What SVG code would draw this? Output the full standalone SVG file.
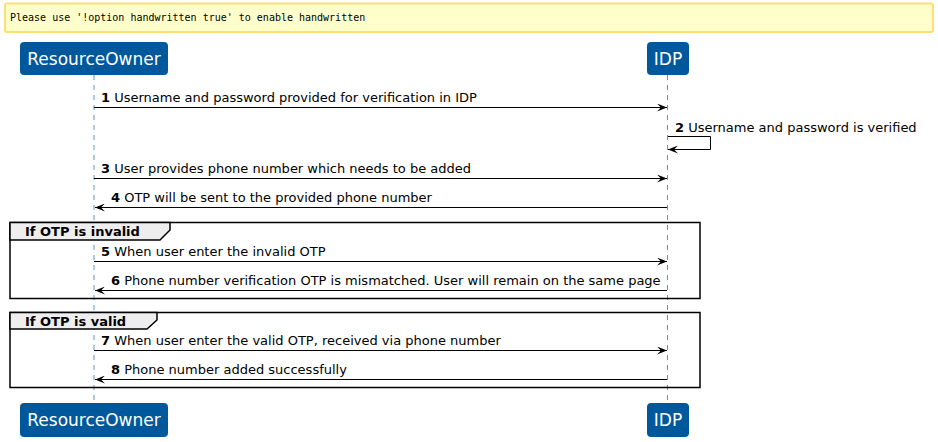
<svg xmlns="http://www.w3.org/2000/svg" width="938" height="442" viewBox="0 0 938 442">
<style>
.note{fill:#FFFFCC;stroke:#FFDD77;stroke-width:2}
.notetxt{font-family:"DejaVu Sans Mono","Liberation Mono",monospace;font-size:10px;fill:#000}
.pbox{fill:#00589C;stroke:#00589C;stroke-width:1}
.ptxt{font-family:"DejaVu Sans","Liberation Sans",sans-serif;font-size:17px;fill:#FFFFFF;text-anchor:middle}
.life{stroke:#5B93C8;stroke-width:1;stroke-dasharray:5,5;fill:none}
.msg{stroke:#000;stroke-width:1;fill:none}
.mtxt{font-family:"DejaVu Sans","Liberation Sans",sans-serif;font-size:13px;fill:#000}
.num{font-weight:bold}
.grp{fill:none;stroke:#000;stroke-width:1.5}
.tab{fill:#EEEEEE;stroke:#000;stroke-width:1.5}
.gtxt{font-family:"DejaVu Sans","Liberation Sans",sans-serif;font-size:13px;font-weight:bold;fill:#000}
</style>
<defs>
<marker id="ah" viewBox="0 0 10 8" refX="10" refY="4" markerWidth="10" markerHeight="8" markerUnits="userSpaceOnUse" orient="auto">
<polygon points="0,0 10,4 0,8 4,4" fill="#000"/>
</marker>
</defs>
<g id="note">
<rect class="note" x="5" y="3.5" width="928" height="28.5" rx="2"/>
<text class="notetxt" x="10" y="20.5">Please use '!option handwritten true' to enable handwritten</text>
</g>
<g id="lifelines">
<line class="life" x1="94" y1="75" x2="94" y2="403"/>
<line class="life" x1="667.5" y1="75" x2="667.5" y2="403"/>
</g>
<g id="ResourceOwner">
<rect class="pbox" x="20.5" y="42.5" width="147" height="32" rx="3"/>
<text class="ptxt" x="94" y="64.5">ResourceOwner</text>
</g>
<g id="IDP">
<rect class="pbox" x="647.5" y="42.5" width="41" height="32" rx="3"/>
<text class="ptxt" x="668" y="64.5">IDP</text>
</g>
<g id="ResourceOwner-bottom">
<rect class="pbox" x="20.5" y="403.5" width="147" height="33" rx="3"/>
<text class="ptxt" x="94" y="426">ResourceOwner</text>
</g>
<g id="IDP-bottom">
<rect class="pbox" x="647.5" y="403.5" width="41" height="33" rx="3"/>
<text class="ptxt" x="668" y="426">IDP</text>
</g>
<g id="groups">
<rect class="grp" x="10" y="222.5" width="690" height="76"/>
<path class="tab" d="M10,222.5 H170 V230 L160,240 H10 Z"/>
<text class="gtxt" x="25" y="236">If OTP is invalid</text>
<rect class="grp" x="10" y="312.5" width="690" height="75"/>
<path class="tab" d="M10,312.5 H157 V320 L147,329 H10 Z"/>
<text class="gtxt" x="25" y="326">If OTP is valid</text>
</g>
<g id="connectors">
<line class="msg" x1="94" y1="107.5" x2="667" y2="107.5" marker-end="url(#ah)"/>
<text class="mtxt" x="101" y="102"><tspan class="num">1</tspan> Username and password provided for verification in IDP</text>
<polyline class="msg" points="668,136.5 710.5,136.5 710.5,149.5 668,149.5" marker-end="url(#ah)"/>
<text class="mtxt" x="675" y="132"><tspan class="num">2</tspan> Username and password is verified</text>
<line class="msg" x1="94" y1="178.5" x2="667" y2="178.5" marker-end="url(#ah)"/>
<text class="mtxt" x="101" y="173"><tspan class="num">3</tspan> User provides phone number which needs to be added</text>
<line class="msg" x1="667" y1="207.5" x2="95" y2="207.5" marker-end="url(#ah)"/>
<text class="mtxt" x="111" y="202"><tspan class="num">4</tspan> OTP will be sent to the provided phone number</text>
<line class="msg" x1="94" y1="261.5" x2="667" y2="261.5" marker-end="url(#ah)"/>
<text class="mtxt" x="101" y="256"><tspan class="num">5</tspan> When user enter the invalid OTP</text>
<line class="msg" x1="667" y1="290.5" x2="95" y2="290.5" marker-end="url(#ah)"/>
<text class="mtxt" x="111" y="285"><tspan class="num">6</tspan> Phone number verification OTP is mismatched. User will remain on the same page</text>
<line class="msg" x1="94" y1="350.5" x2="667" y2="350.5" marker-end="url(#ah)"/>
<text class="mtxt" x="101" y="345"><tspan class="num">7</tspan> When user enter the valid OTP, received via phone number</text>
<line class="msg" x1="667" y1="379.5" x2="95" y2="379.5" marker-end="url(#ah)"/>
<text class="mtxt" x="111" y="374"><tspan class="num">8</tspan> Phone number added successfully</text>
</g>
</svg>
